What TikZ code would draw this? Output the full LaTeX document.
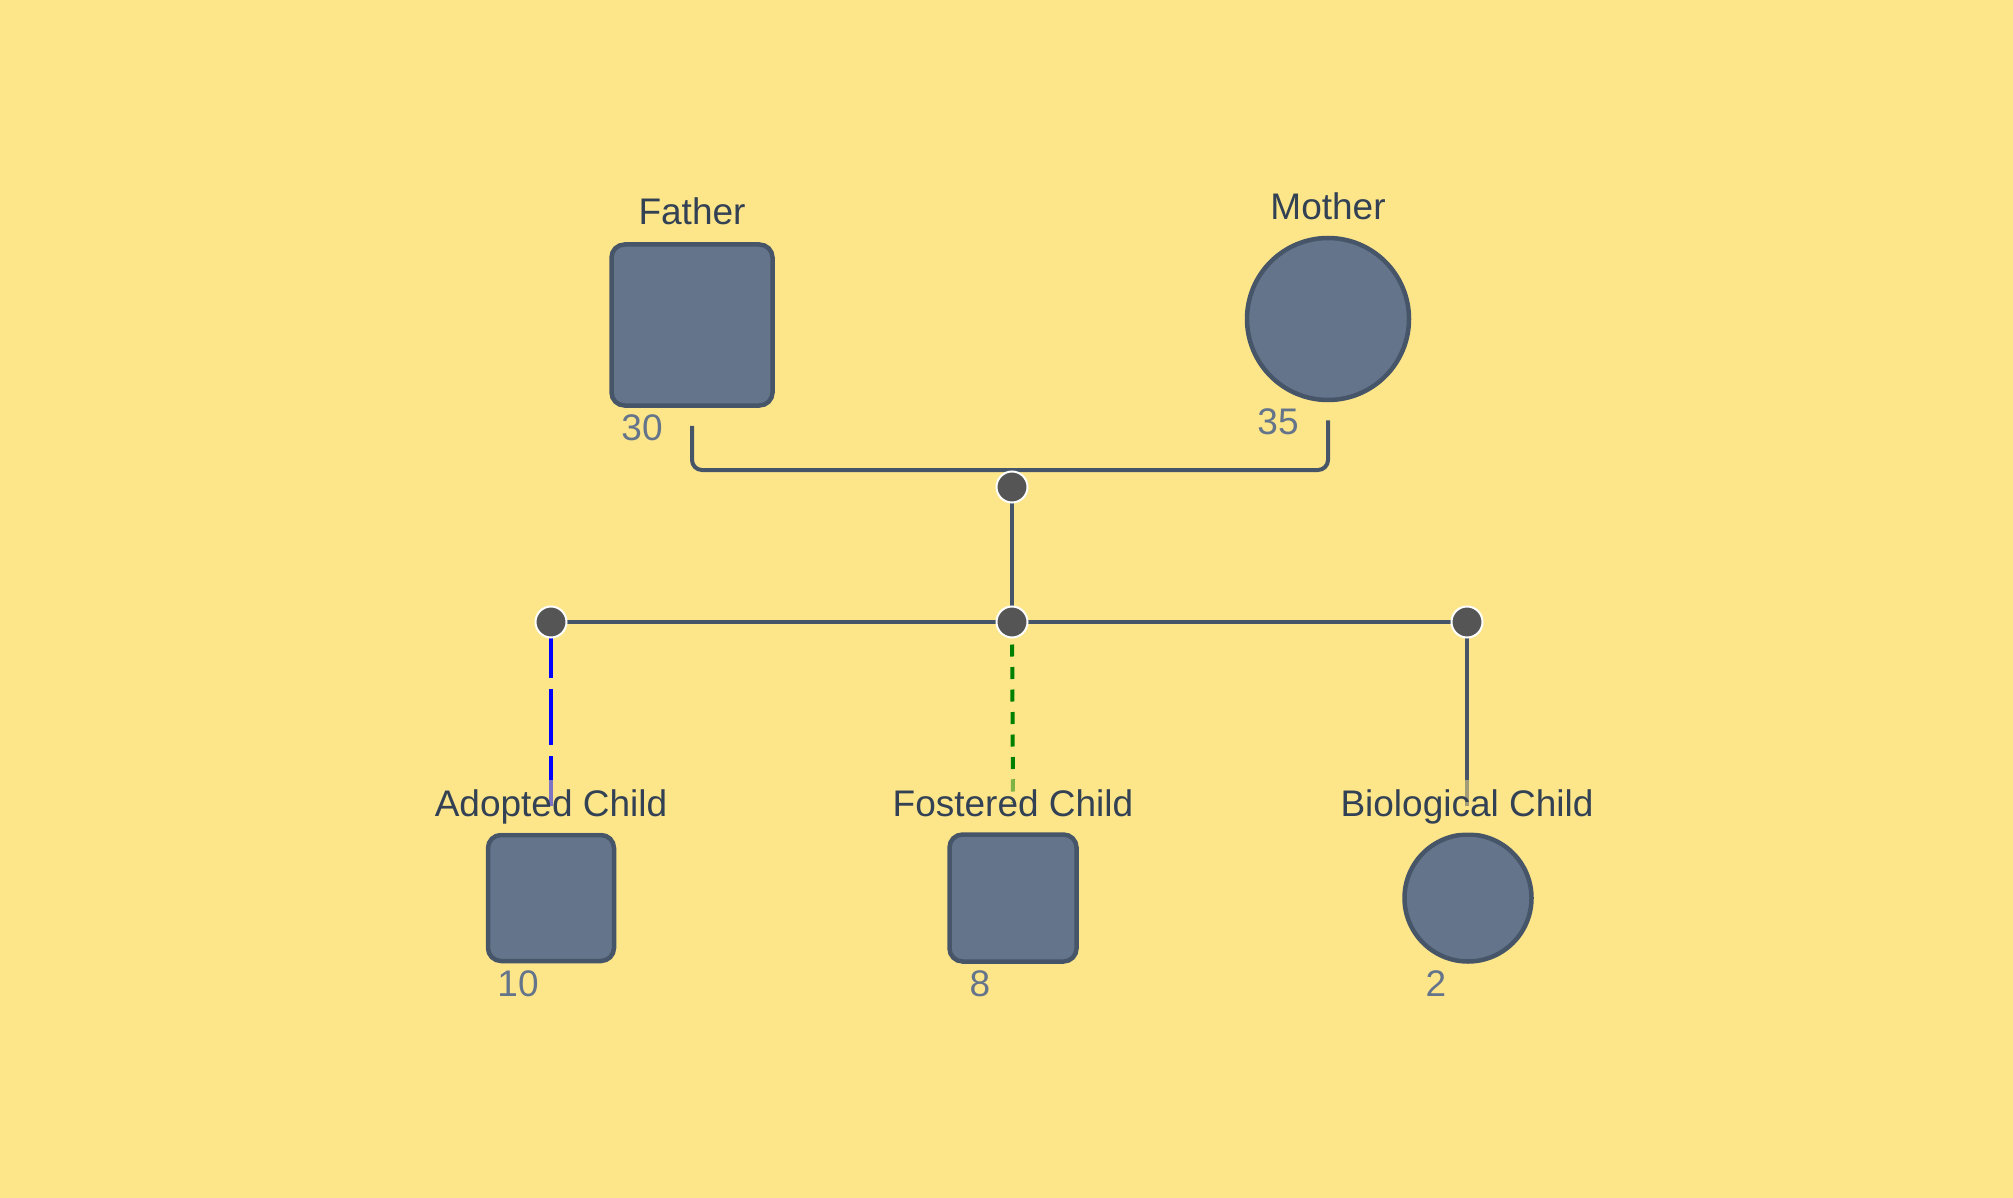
\documentclass[tikz,border=0pt]{standalone}
\usepackage{fontspec}
\setmainfont{Liberation Sans}
\usetikzlibrary{calc}

\definecolor{paper}{HTML}{FDE68A}
\definecolor{shapefill}{HTML}{64748B}
\definecolor{shapeline}{HTML}{475569}
\definecolor{labeltext}{HTML}{334155}
\definecolor{agetext}{HTML}{64748B}
\definecolor{dotfill}{HTML}{555555}
\definecolor{adoptblue}{HTML}{0000FF}
\definecolor{fostergreen}{HTML}{008000}

\pgfdeclarelayer{paperlayer}
\pgfdeclarelayer{edges}
\pgfsetlayers{paperlayer,edges,main}

\begin{document}
\begin{tikzpicture}[x=1pt, y=-1pt,
	male/.style={rectangle, rounded corners=13pt, minimum size=#1, inner sep=0pt, draw=shapeline, fill=shapefill, line width=4.5pt},
	female/.style={circle, minimum size=#1, inner sep=0pt, draw=shapeline, fill=shapefill, line width=4.5pt},
	namelabel/.style={font=\fontsize{37}{44}\selectfont, text=labeltext, anchor=base, fill=paper, fill opacity=0.5, text opacity=1, inner sep=9pt},
	agelabel/.style={font=\fontsize{37}{44}\selectfont, text=agetext, anchor=base},
	junction/.style={circle, minimum size=31pt, inner sep=0pt, fill=dotfill, draw=white, line width=2pt},
	link/.style={draw=shapeline, line width=4pt}]
	\begin{pgfonlayer}{paperlayer}
		\fill[paper] (0,0) rectangle (2013,1198);
	\end{pgfonlayer}
	\useasboundingbox (0,0) rectangle (2013,1198);

	\node[male=161pt] (father) at (692,325) {};
	\node[namelabel] (fatherlabel) at (692,225) {Father};
	\node[agelabel] (fatherage) at ($(father.south)+(-50,33)$) {30};
	\node[female=162pt] (mother) at (1328,319) {};
	\node[namelabel] (motherlabel) at (1328,220) {Mother};
	\node[agelabel] (motherage) at ($(mother.south)+(-50,32)$) {35};

	\coordinate (fatherstub) at ($(father.south)+(0,18)$);
	\coordinate (motherstub) at ($(mother.south)+(0,18)$);
	\coordinate (couple) at (1012,470);
	\node[junction] (union) at (1012,487) {};
	\node[junction] (sibs) at (1012,622) {};
	\node[junction] (leftdot) at (551,622) {};
	\node[junction] (rightdot) at (1467,622) {};

	\node[male=126pt] (adopted) at (551,898) {};
	\node[namelabel] (adoptedlabel) at (551,816) {Adopted Child};
	\node[agelabel] (adoptedage) at ($(adopted.south)+(-33,33)$) {10};
	\node[male=127pt] (fostered) at (1013,898) {};
	\node[namelabel] (fosteredlabel) at (1013,816) {Fostered Child};
	\node[agelabel] (fosteredage) at ($(fostered.south)+(-33,33)$) {8};
	\node[female=127pt] (biological) at (1468,898) {};
	\node[namelabel] (biologicallabel) at (1467,816) {Biological Child};
	\node[agelabel] (biologicalage) at ($(biological.south)+(-32,33)$) {2};

	\begin{pgfonlayer}{edges}
		\draw[link, rounded corners=10pt] (fatherstub) |- (couple) -| (motherstub);
		\draw[link] (union.center) -- (sibs.center);
		\draw[link] (leftdot.center) -- (sibs.center) -- (rightdot.center);
		\draw[link, draw=adoptblue, dash pattern=on 56pt off 11pt] (leftdot.center) -- (adoptedlabel.center);
		\draw[link, draw=fostergreen, dash pattern=on 12pt off 10.5pt] (sibs.center) -- (fosteredlabel.center);
		\draw[link] (rightdot.center) -- (biologicallabel.center);
	\end{pgfonlayer}
\end{tikzpicture}
\end{document}
